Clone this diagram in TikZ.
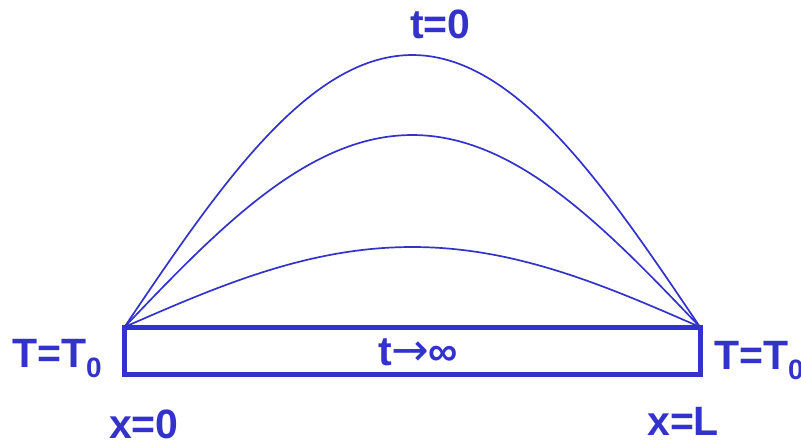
\documentclass[tikz,border=0pt]{standalone}
\usepackage{fontspec}
\setmainfont{Liberation Sans}
\newfontfamily\dvsans{DejaVu Sans}
\definecolor{bl}{RGB}{51,51,204}
\begin{document}
\begin{tikzpicture}[x=1pt,y=-1pt,
  lbl/.style={text=bl,font=\fontsize{41}{41}\selectfont\bfseries,inner sep=0pt,anchor=base west},
  curve/.style={draw=bl,line width=1.7},
  bar/.style={draw=bl,line width=5}]
\useasboundingbox (0,0) rectangle (801,440);
\clip (0,0) rectangle (801,440);
\coordinate (A) at (124.5,327);
\coordinate (B) at (700,374.5);
\draw[bar] (A) rectangle (B);
\foreach \h in {272,192,80}{
  \draw[curve] plot[domain=0:180,samples=120] ({124.5+3.19722*\x},{327-\h*sin(\x)});
}
\node[lbl] (t0) at (410,38) {t=0};
\node[lbl] (TL) at (12,367) {T=T\raisebox{-10pt}{\fontsize{28}{28}\selectfont 0}};
\node[lbl] (TR) at (714,369) {T=T\raisebox{-10pt}{\fontsize{28}{28}\selectfont 0}};
\node[lbl] (x0) at (109,438) {x=0};
\node[lbl] (xL) at (647,435) {x=L};
\node[lbl] (tinf) at (378,365) {t{\dvsans\mdseries\fontsize{45}{45}\selectfont →}\hspace{-1pt}∞};
\end{tikzpicture}
\end{document}
